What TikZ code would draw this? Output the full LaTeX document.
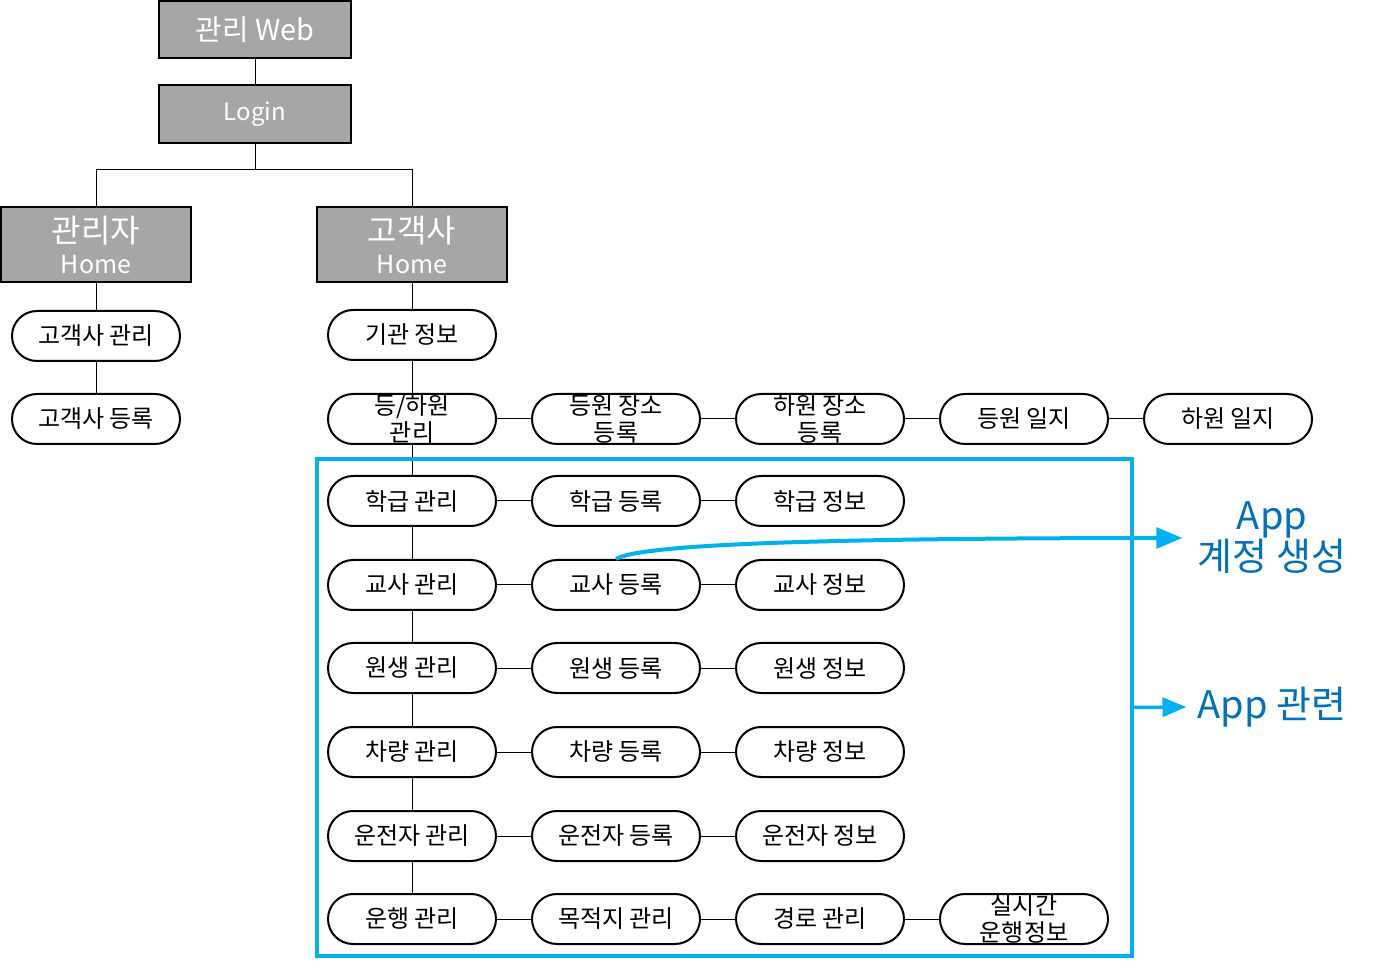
\documentclass[tikz,border=0pt]{standalone}
\usepackage{fontspec}
\setmainfont{Noto Sans CJK KR}
\usetikzlibrary{arrows,positioning}
\definecolor{boxgray}{RGB}{166,166,166}
\definecolor{appcyan}{RGB}{0,176,240}
\definecolor{appblue}{RGB}{0,112,192}

\begin{document}
\begin{tikzpicture}[x=0.5pt, y=-0.5pt,
      head/.style={rectangle, draw=black, line width=1pt, fill=boxgray, text=white, inner sep=0pt, minimum width=96pt},
      menu/.style={rectangle, rounded corners=12.5pt, draw=black, line width=1pt, inner sep=0pt, minimum width=84pt, minimum height=25pt, node distance=102pt, font=\fontsize{12}{13.5}\selectfont, align=center},
      link/.style={line width=0.5pt},
      pfeil/.style={-triangle 45, draw=appcyan, line width=2pt},
      applabel/.style={text=appblue, font=\fontsize{19}{20.5}\selectfont, align=center, inner sep=0pt}]

\useasboundingbox (0,0) rectangle (1375,961);

% top of the tree
\node[head, minimum height=28.5pt, font=\fontsize{14.4}{16}\selectfont] (web) at (255,29.5) {관리 Web};
\node[head, minimum height=29pt, font=\fontsize{12}{14}\selectfont] (login) at (255,114) {Login};
\node[head, minimum width=95pt, minimum height=37.5pt, align=center] (admhome) at (96,244.5) {{\fontsize{16}{18}\selectfont 관리자}\\[3.5pt]{\fontsize{12.5}{14}\selectfont Home}};
\node[head, minimum width=95pt, minimum height=37.5pt, align=center] (custhome) at (412,244.5) {{\fontsize{16}{18}\selectfont 고객사}\\[3.5pt]{\fontsize{12.5}{14}\selectfont Home}};
\coordinate (split) at (255,170);

% admin side
\node[menu] (custmgr) at (96,336) {고객사 관리};
\node[menu] (custreg) at (96,419) {고객사 등록};

% customer side
\node[menu] (orginfo) at (412,335) {기관 정보};
\node[menu] (attmgr) at (412,419) {등/하원\\관리};
\node[menu,right of=attmgr] (pickreg) {등원 장소\\등록};
\node[menu,right of=pickreg] (dropreg) {하원 장소\\등록};
\node[menu,right of=dropreg] (pickjnl) {등원 일지};
\node[menu,right of=pickjnl] (dropjnl) {하원 일지};

\node[menu] (clsmgr) at (412,501) {학급 관리};
\node[menu,right of=clsmgr] (clsreg) {학급 등록};
\node[menu,right of=clsreg] (clsinfo) {학급 정보};

\node[menu] (tchmgr) at (412,585) {교사 관리};
\node[menu,right of=tchmgr] (tchreg) {교사 등록};
\node[menu,right of=tchreg] (tchinfo) {교사 정보};

\node[menu] (stdmgr) at (412,668) {원생 관리};
\node[menu,right of=stdmgr] (stdreg) {원생 등록};
\node[menu,right of=stdreg] (stdinfo) {원생 정보};

\node[menu] (carmgr) at (412,752) {차량 관리};
\node[menu,right of=carmgr] (carreg) {차량 등록};
\node[menu,right of=carreg] (carinfo) {차량 정보};

\node[menu] (drvmgr) at (412,836) {운전자 관리};
\node[menu,right of=drvmgr] (drvreg) {운전자 등록};
\node[menu,right of=drvreg] (drvinfo) {운전자 정보};

\node[menu] (runmgr) at (412,919) {운행 관리};
\node[menu,right of=runmgr] (dstmgr) {목적지 관리};
\node[menu,right of=dstmgr] (rtemgr) {경로 관리};
\node[menu,right of=rtemgr] (rtinfo) {실시간\\운행정보};

% tree lines
\draw[link] (web) -- (login);
\draw[link] (login) -- (split);
\draw[link] (split) -| (admhome);
\draw[link] (split) -| (custhome);
\draw[link] (admhome) -- (custmgr);
\draw[link] (custmgr) -- (custreg);
\draw[link] (custhome) -- (orginfo);
\draw[link] (orginfo) -- (attmgr);
\draw[link] (attmgr) -- (clsmgr);
\draw[link] (clsmgr) -- (tchmgr);
\draw[link] (tchmgr) -- (stdmgr);
\draw[link] (stdmgr) -- (carmgr);
\draw[link] (carmgr) -- (drvmgr);
\draw[link] (drvmgr) -- (runmgr);
\draw[link] (attmgr) -- (pickreg);
\draw[link] (pickreg) -- (dropreg);
\draw[link] (dropreg) -- (pickjnl);
\draw[link] (pickjnl) -- (dropjnl);
\draw[link] (clsmgr) -- (clsreg);
\draw[link] (clsreg) -- (clsinfo);
\draw[link] (tchmgr) -- (tchreg);
\draw[link] (tchreg) -- (tchinfo);
\draw[link] (stdmgr) -- (stdreg);
\draw[link] (stdreg) -- (stdinfo);
\draw[link] (carmgr) -- (carreg);
\draw[link] (carreg) -- (carinfo);
\draw[link] (drvmgr) -- (drvreg);
\draw[link] (drvreg) -- (drvinfo);
\draw[link] (runmgr) -- (dstmgr);
\draw[link] (dstmgr) -- (rtemgr);
\draw[link] (rtemgr) -- (rtinfo);

% app related part
\node[draw=appcyan, line width=1.75pt, minimum width=407.5pt, minimum height=248.5pt, inner sep=0pt] (appbox) at (724.5,707.5) {};
\node[applabel] (acclabel) at (1272,538) {App\\계정 생성};
\node[applabel] (rellabel) at (1272,707) {App 관련};
\coordinate (accend) at (1182,538);
\coordinate (relend) at (1186,707);
\draw[pfeil] (tchreg.north) .. controls (640,545) and (800,538) .. (accend);
\draw[pfeil, line width=1.75pt] (appbox.east) -- (relend);

\end{tikzpicture}
\end{document}
